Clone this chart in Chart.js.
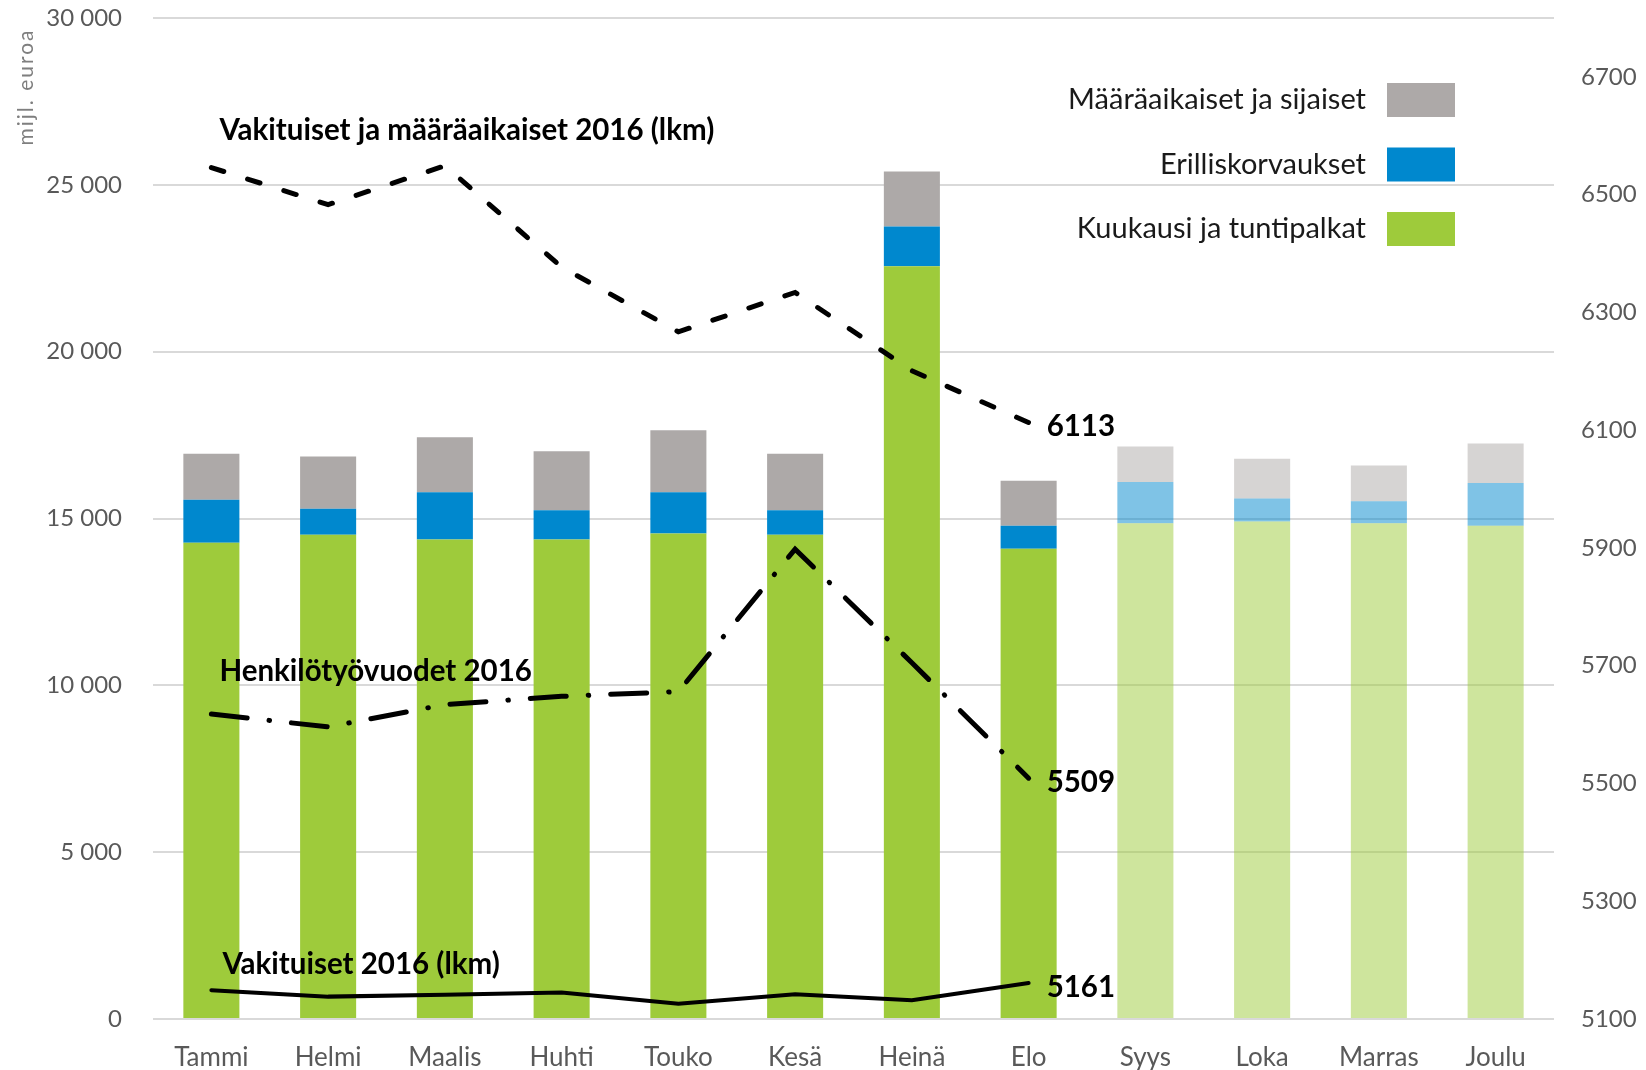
<!DOCTYPE html>
<html><head><meta charset="utf-8">
<script src="https://cdn.jsdelivr.net/npm/chart.js@4"></script>
<style>html,body{margin:0;padding:0;background:#fff;} canvas{display:block}</style>
</head><body>
<canvas id="c" width="1646" height="1070"></canvas>
<script>
// ---- data ----
const months = ['Tammi','Helmi','Maalis','Huhti','Touko','Kesä','Heinä','Elo','Syys','Loka','Marras','Joulu'];
const kuukausiPalkat = [14271, 14516, 14373, 14373, 14547, 14516, 22562, 14091, 14858, 14909, 14858, 14786];
const erilliskorvaukset = [1288, 773, 1413, 877, 1239, 734, 1187, 695, 1237, 692, 659, 1279];
const maaraaikaiset = [1381, 1570, 1651, 1765, 1858, 1690, 1651, 1342, 1063, 1186, 1072, 1186];
const vakJaMaar2016 = [6546, 6483, 6549, 6377, 6267, 6334, 6201, 6113];
const henkilotyovuodet2016 = [5618, 5596, 5634, 5648, 5656, 5898, 5705, 5509];
const vakituiset2016 = [5149, 5138, 5141, 5145, 5126, 5142, 5132, 5161];
const actualMonthCount = 8;
const leftTicks = [0, 5000, 10000, 15000, 20000, 25000, 30000];
const rightTicks = [5100, 5300, 5500, 5700, 5900, 6100, 6300, 6500, 6700];
const rightMin = 5100, rightMax = 6800;

// ---- styles ----
const FONT = 'Lato';
const GREEN = '158,203,59', BLUE = '0,136,206', GRAY = '173,169,168';
const barColors = rgb => months.map((m, i) => i < actualMonthCount ? `rgb(${rgb})` : `rgba(${rgb},0.5)`);
const fmt = v => String(v).replace(/\B(?=(\d{3})+(?!\d))/g, ' ');

const lineLabels = {
  id: 'lineLabels',
  afterDatasetsDraw(chart) {
    const ctx = chart.ctx;
    ctx.save();
    ctx.fillStyle = '#000';
    ctx.font = `bold 29.5px ${FONT}`;
    ctx.textBaseline = 'middle';
    chart.data.datasets.forEach((ds, di) => {
      if (ds.type !== 'line') return;
      const pts = chart.getDatasetMeta(di).data;
      const first = pts[0], last = pts[ds.data.length - 1];
      ctx.textAlign = 'left';
      ctx.fillText(ds.label, first.x + ds.nameOffset[0], first.y + ds.nameOffset[1]);
      ctx.fillText(String(ds.data[ds.data.length - 1]), last.x + 18, last.y + 4);
    });
    ctx.restore();
  }
};

const customLegend = {
  id: 'customLegend',
  afterDraw(chart) {
    const ctx = chart.ctx;
    ctx.save();
    ctx.font = `29px ${FONT}`;
    ctx.textBaseline = 'middle';
    ctx.textAlign = 'right';
    const bars = chart.data.datasets.filter(d => d.type === 'bar').slice().reverse();
    bars.forEach((ds, i) => {
      const cy = 100 + i * 64.5;
      ctx.fillStyle = '#1a1a1a';
      ctx.fillText(ds.label, 1366, cy);
      ctx.fillStyle = ds.legendColor;
      ctx.fillRect(1387, cy - 17, 68, 34);
    });
    // axis title
    ctx.translate(26, 87);
    ctx.rotate(-Math.PI / 2);
    ctx.fillStyle = '#7f7f7f';
    ctx.font = `21px ${FONT}`;
    ctx.textAlign = 'center';
    try { ctx.letterSpacing = '2px'; } catch (e) {}
    ctx.fillText('mijl. euroa', 0, 0);
    ctx.restore();
  }
};

const noVPad = s => { s.paddingTop = 0; s.paddingBottom = 0; };

new Chart(document.getElementById('c'), {
  data: {
    labels: months,
    datasets: [
      { type: 'line', label: 'Vakituiset ja määräaikaiset 2016 (lkm)', data: vakJaMaar2016, yAxisID: 'y1',
        borderColor: '#000', borderWidth: 5, borderDash: [13, 25], borderCapStyle: 'round', pointRadius: 0, order: 0,
        nameOffset: [8, -37] },
      { type: 'line', label: 'Henkilötyövuodet 2016', data: henkilotyovuodet2016, yAxisID: 'y1',
        borderColor: '#000', borderWidth: 5, borderDash: [36, 22, 0.5, 22], borderCapStyle: 'round', pointRadius: 0, order: 0,
        nameOffset: [8, -43] },
      { type: 'line', label: 'Vakituiset 2016 (lkm)', data: vakituiset2016, yAxisID: 'y1',
        borderColor: '#000', borderWidth: 4, borderCapStyle: 'round', pointRadius: 0, order: 0,
        nameOffset: [11, -26] },
      { type: 'bar', label: 'Kuukausi ja tuntipalkat', data: kuukausiPalkat, backgroundColor: barColors(GREEN),
        legendColor: `rgb(${GREEN})`, yAxisID: 'y', stack: 's', order: 1 },
      { type: 'bar', label: 'Erilliskorvaukset', data: erilliskorvaukset, backgroundColor: barColors(BLUE),
        legendColor: `rgb(${BLUE})`, yAxisID: 'y', stack: 's', order: 1 },
      { type: 'bar', label: 'Määräaikaiset ja sijaiset', data: maaraaikaiset, backgroundColor: barColors(GRAY),
        legendColor: `rgb(${GRAY})`, yAxisID: 'y', stack: 's', order: 1 }
    ]
  },
  options: {
    responsive: false,
    animation: false,
    devicePixelRatio: 1,
    layout: { padding: { top: 18, left: 0, right: 0, bottom: 0 } },
    datasets: { bar: { categoryPercentage: 1, barPercentage: 0.48 } },
    plugins: { legend: { display: false }, tooltip: { enabled: false } },
    scales: {
      x: {
        stacked: true,
        grid: { display: false },
        border: { display: false },
        ticks: { color: '#595959', font: { family: FONT, size: 26 }, padding: 15, maxRotation: 0 },
        afterFit: s => { s.height = 51; }
      },
      y: {
        stacked: true, position: 'left', min: 0, max: 30000,
        afterBuildTicks: s => { s.ticks = leftTicks.map(v => ({ value: v })); },
        grid: { color: '#d9d9d9', lineWidth: 2, drawTicks: false },
        border: { display: false },
        ticks: { color: '#595959', font: { family: FONT, size: 24 }, padding: 31, callback: v => fmt(v) },
        afterFit: s => { s.width = 153; noVPad(s); }
      },
      y1: {
        stacked: false, position: 'right', min: rightMin, max: rightMax,
        afterBuildTicks: s => { s.ticks = rightTicks.map(v => ({ value: v })); },
        grid: { display: false, drawTicks: false },
        border: { display: false },
        ticks: { color: '#595959', font: { family: FONT, size: 24 }, padding: 27, callback: v => String(v) },
        afterFit: s => { s.width = 92; noVPad(s); }
      }
    }
  },
  plugins: [lineLabels, customLegend]
});
</script>
</body></html>
